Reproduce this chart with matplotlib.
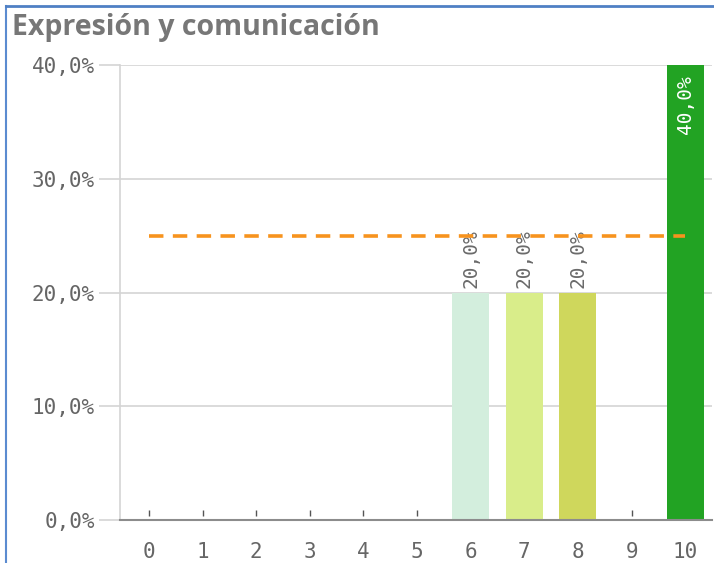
import matplotlib
matplotlib.use("Agg")
import matplotlib.pyplot as plt
from matplotlib.lines import Line2D

categories = [str(i) for i in range(11)]
values = [0, 0, 0, 0, 0, 0, 20.0, 20.0, 20.0, 0, 40.0]
barColors = ["#d3eedd"] * 6 + ["#d3eedd", "#d9ed8a", "#cfd75c", "#22a323", "#22a323"]
average = 25.0
yTicks = [0, 10, 20, 30, 40]

monoFont = "DejaVu Sans Mono"

fig = plt.figure(figsize=(7.14, 5.63), dpi=100)
ax = fig.add_axes([120 / 714, 43 / 563, 592 / 714, 455 / 563])

xPos = list(range(len(categories)))
ax.bar(xPos, values, width=0.69, color=barColors, zorder=3)

# little marks for empty categories
zeroX = [x for x, v in zip(xPos, values) if v == 0]
ax.plot(zeroX, [0.65] * len(zeroX), linestyle="none", marker="|",
        markersize=4, color="#555555", zorder=4)

# value labels
for x, v in zip(xPos, values):
   if v == 0:
      continue
   txt = "%.1f%%" % v
   txt = txt.replace(".", ",")
   if v >= 35:
      ax.text(x, v - 0.9, txt, rotation=90, ha="center", va="top",
              color="white", fontsize=14, family=monoFont, zorder=5)
   else:
      ax.text(x, v + 0.4, txt, rotation=90, ha="center", va="bottom",
              color="#6a6a6a", fontsize=14, family=monoFont, zorder=5)

# average line
ax.plot([xPos[0], xPos[-1]], [average, average], color="#f7931e",
        linestyle=(0, (4, 2.6)), linewidth=2.6, zorder=6)

ax.set_xlim(-0.54, 10.5)
ax.set_ylim(0, 40)
ax.set_xticks(xPos)
ax.set_xticklabels(categories)
ax.set_yticks(yTicks)
ax.set_yticklabels([("%.1f%%" % t).replace(".", ",") for t in yTicks])

ax.grid(axis="y", color="#d4d4d4", linewidth=1.2, zorder=0)
for side in ["top", "right"]:
   ax.spines[side].set_visible(False)
ax.spines["left"].set_color("#d4d4d4")
ax.spines["left"].set_linewidth(1.2)
ax.spines["bottom"].set_color("#8c8c8c")
ax.spines["bottom"].set_linewidth(1.5)
ax.spines["bottom"].set_zorder(7)

ax.tick_params(axis="y", length=15, color="#d4d4d4", width=1.2, pad=3,
               labelsize=15, labelcolor="#666666")
ax.tick_params(axis="x", length=0, pad=16, labelsize=15, labelcolor="#666666")
for lbl in ax.get_xticklabels() + ax.get_yticklabels():
   lbl.set_family(monoFont)

fig.text(12 / 714, 1 - 27 / 563, "Expresión y comunicación", ha="left", va="center",
         fontsize=20.5, fontweight="bold", color="#777777", family="Open Sans")

# panel border
fig.add_artist(Line2D([6 / 714, 6 / 714], [0, 1 - 6 / 563], color="#5b8bd0",
                      linewidth=1.5, transform=fig.transFigure))
fig.add_artist(Line2D([6 / 714, 1], [1 - 6 / 563, 1 - 6 / 563], color="#4f80c4",
                      linewidth=2.0, transform=fig.transFigure))

fig.savefig("out.png", dpi=100)
